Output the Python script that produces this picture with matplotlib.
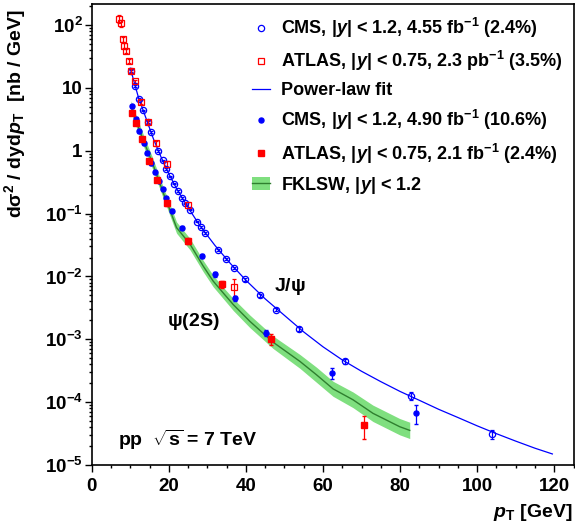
import matplotlib
matplotlib.use('Agg')
import matplotlib.pyplot as plt
from matplotlib.lines import Line2D
from matplotlib.patches import Patch
from matplotlib.ticker import FixedLocator, FixedFormatter, MultipleLocator, LogLocator, NullFormatter
import numpy as np

plt.rcParams['font.family'] = ['Liberation Sans', 'DejaVu Sans']
plt.rcParams['font.weight'] = 'bold'
plt.rcParams['axes.labelweight'] = 'bold'
plt.rcParams['mathtext.fontset'] = 'custom'
plt.rcParams['mathtext.rm'] = 'Liberation Sans:bold'
plt.rcParams['mathtext.it'] = 'Liberation Sans:bold:italic'
plt.rcParams['mathtext.bf'] = 'Liberation Sans:bold'
plt.rcParams['mathtext.sf'] = 'Liberation Sans:bold'

# CMS J/psi, |y| < 1.2 (open circles)
cms_jpsi_pt = [10.2, 11.2, 12.3, 13.2, 14.6, 15.4, 17.25, 18.4, 19.4, 20.3, 21.3, 22.3, 23.3, 24.2,
               25.4, 27.3, 28.3, 29.3, 32.8, 34.8, 36.8, 39.7, 43.6, 47.7, 53.9, 65.8, 82.7, 103.9]
cms_jpsi_xs = [18.6, 10.6, 6.65, 4.38, 2.85, 1.98, 1.0, 0.70, 0.51, 0.39, 0.30, 0.23, 0.177, 0.145,
               0.116, 0.0748, 0.0608, 0.0488, 0.0267, 0.0192, 0.0138, 0.0090, 0.00505, 0.00298,
               0.00146, 0.000445, 0.000127, 3.1e-5]
cms_jpsi_rel = [0.03, 0.03, 0.03, 0.03, 0.03, 0.03, 0.03, 0.03, 0.03, 0.03, 0.03, 0.03, 0.03, 0.03,
                0.03, 0.03, 0.03, 0.03, 0.04, 0.04, 0.04, 0.05, 0.05, 0.06, 0.07, 0.10, 0.15, 0.16]

# ATLAS J/psi, |y| < 0.75 (open squares)
atlas_jpsi_pt = [7.07, 7.5, 8.03, 8.45, 8.9, 9.6, 10.26, 11.3, 12.7, 14.7, 16.7, 19.5, 24.9, 36.9]
atlas_jpsi_xs = [125, 106, 59, 47, 39, 26.6, 18.6, 12.7, 5.9, 2.85, 1.32, 0.62, 0.138, 0.0068]
atlas_jpsi_rel = [0.15, 0.12, 0.10, 0.09, 0.08, 0.08, 0.07, 0.07, 0.07, 0.08, 0.09, 0.10, 0.12, 0.35]

# Power-law fit to the J/psi data
fit_pt = [10, 12, 14, 16, 18, 20, 22, 25, 28, 32, 36, 40, 45, 50, 55, 60, 65, 70, 75, 80,
          85, 90, 95, 100, 105, 110, 115, 119.5]
fit_xs = [20.6, 7.5, 3.4, 1.55, 0.79, 0.43, 0.25, 0.125, 0.065, 0.031, 0.016, 0.0087, 0.0044,
          0.0024, 0.00131, 0.00076, 0.00047, 0.00031, 0.000212, 0.000148, 0.000107, 7.7e-5,
          5.7e-5, 4.2e-5, 3.15e-5, 2.4e-5, 1.85e-5, 1.5e-5]

# CMS psi(2S), |y| < 1.2 (filled circles)
cms_psi2s_pt = [10.36, 11.4, 12.33, 13.47, 14.4, 15.44, 16.4, 17.4, 18.4, 19.35, 20.9, 23.5,
                28.5, 32.0, 37.1, 45.3, 62.3, 84.0]
cms_psi2s_xs = [5.08, 3.24, 2.03, 1.32, 0.935, 0.63, 0.454, 0.334, 0.246, 0.174, 0.111, 0.060,
                0.0212, 0.0108, 0.00447, 0.00127, 0.00029, 6.8e-5]
cms_psi2s_rel = [0.05, 0.05, 0.05, 0.05, 0.05, 0.05, 0.05, 0.05, 0.05, 0.05, 0.05, 0.06,
                 0.07, 0.08, 0.10, 0.12, 0.20, 0.33]

# ATLAS psi(2S), |y| < 0.75 (filled squares)
atlas_psi2s_pt = [10.5, 11.4, 12.95, 14.9, 17.0, 19.6, 25.1, 33.7, 46.4, 70.6]
atlas_psi2s_xs = [3.97, 2.75, 1.55, 0.68, 0.347, 0.145, 0.0367, 0.0075, 0.001, 4.3e-5]
atlas_psi2s_rel = [0.06, 0.06, 0.06, 0.06, 0.07, 0.08, 0.10, 0.13, 0.20, 0.40]

# FKLSW prediction, |y| < 1.2 (central value and band)
fklsw_pt = [10.2, 10.8, 13.4, 15.5, 16.0, 19.0, 19.4, 22.0, 25.5, 28.9, 31.5, 33.7, 36.7, 41.0,
            47.05, 54.0, 58.3, 62.6, 67.8, 72.95, 79.9, 82.5]
fklsw_xs = [5.1, 3.9, 1.46, 0.70, 0.58, 0.181, 0.160, 0.060, 0.0326, 0.0147, 0.00845, 0.00585,
            0.00358, 0.00194, 9.0e-4, 4.46e-4, 2.73e-4, 1.63e-4, 1.09e-4, 6.65e-5, 4.07e-5, 3.56e-5]
fklsw_lo = [4.15, 3.17, 1.19, 0.569, 0.472, 0.147, 0.130, 0.0488, 0.0265, 0.01195, 0.00687, 0.00476,
            0.00288, 0.00154, 7.15e-4, 3.46e-4, 2.07e-4, 1.24e-4, 8.17e-5, 4.93e-5, 3.02e-5, 2.64e-5]
fklsw_hi = [6.27, 4.80, 1.80, 0.861, 0.713, 0.223, 0.197, 0.0738, 0.0401, 0.0181, 0.0104, 0.00720,
            0.00446, 0.00244, 1.13e-3, 5.74e-4, 3.60e-4, 2.15e-4, 1.45e-4, 8.97e-5, 5.49e-5, 4.80e-5]

ytick_vals = [1e-5, 1e-4, 1e-3, 1e-2, 1e-1, 1, 10, 100]
ytick_labels = ['10$^{-5}$', '10$^{-4}$', '10$^{-3}$', '10$^{-2}$', '10$^{-1}$', '1', '10', '10$^{2}$']

blue = '#0000ff'
red = '#ff0000'
band_green = '#7fdf7f'
line_green = '#2f7f2f'

fig = plt.figure(figsize=(5.75, 5.27), dpi=100)
ax = fig.add_axes([0.1595, 0.1176, 0.838, 0.8748])

# theory band
ax.fill_between(fklsw_pt, fklsw_lo, fklsw_hi, color=band_green, lw=0, zorder=1)
ax.plot(fklsw_pt, fklsw_xs, color=line_green, lw=1.0, zorder=2)

# fit
ax.plot(fit_pt, fit_xs, color=blue, lw=0.9, zorder=3)

def errs(vals, rel):
    v = np.array(vals)
    return v * np.array(rel)

ax.errorbar(cms_jpsi_pt, cms_jpsi_xs, yerr=errs(cms_jpsi_xs, cms_jpsi_rel), fmt='o', ms=4.5,
            mfc='none', mec=blue, mew=0.9, ecolor=blue, elinewidth=0.9, capsize=1.5, zorder=4)
ax.errorbar(atlas_jpsi_pt, atlas_jpsi_xs, yerr=errs(atlas_jpsi_xs, atlas_jpsi_rel), fmt='s', ms=4.8,
            mfc='none', mec=red, mew=0.9, ecolor=red, elinewidth=0.9, capsize=1.5, zorder=4)
ax.errorbar(cms_psi2s_pt, cms_psi2s_xs, yerr=errs(cms_psi2s_xs, cms_psi2s_rel), fmt='o', ms=3.6,
            mfc=blue, mec=blue, ecolor=blue, elinewidth=0.9, capsize=1.5, zorder=5)
ax.errorbar(atlas_psi2s_pt, atlas_psi2s_xs, yerr=errs(atlas_psi2s_xs, atlas_psi2s_rel), fmt='s', ms=4.2,
            mfc=red, mec=red, ecolor=red, elinewidth=0.9, capsize=1.5, zorder=5)

ax.set_yscale('log')
ax.set_xlim(0, 125)
ax.set_ylim(1e-5, 216)

ax.xaxis.set_major_locator(MultipleLocator(20))
ax.xaxis.set_minor_locator(MultipleLocator(5))
ax.yaxis.set_major_locator(FixedLocator(ytick_vals))
ax.yaxis.set_major_formatter(FixedFormatter(ytick_labels))
ax.yaxis.set_minor_locator(LogLocator(base=10, subs=np.arange(2, 10)))
ax.yaxis.set_minor_formatter(NullFormatter())
ax.tick_params(which='both', direction='out', width=1.0, labelsize=13.5)
ax.tick_params(which='major', length=5)
ax.tick_params(which='minor', length=2.5)
ax.tick_params(axis='x', which='major', pad=4)
ax.tick_params(axis='y', which='major', pad=1.5)
for s in ax.spines.values():
    s.set_linewidth(1.2)

ax.set_xlabel(r'$p_{\mathrm{T}}$ [GeV]', fontsize=14, fontweight='bold', loc='right')
ax.xaxis.set_label_coords(0.997, -0.08)
ax.set_ylabel(r'd$\mathrm{\sigma}^{2}$ / dyd$p_{\mathrm{T}}$  [nb / GeV]', fontsize=14,
              fontweight='bold', loc='top')
ax.yaxis.set_label_coords(-0.132, 0.99)

ax.text(0.0546, 0.054, r'pp  $\sqrt{\mathrm{s}}$ = 7 TeV', transform=ax.transAxes,
        fontsize=14, va='center', ha='left')
ax.text(0.378, 0.387, r'J/$\mathrm{\psi}$', transform=ax.transAxes, fontsize=14, va='center')
ax.text(0.156, 0.311, r'$\mathrm{\psi}$(2S)', transform=ax.transAxes, fontsize=14, va='center')

handles = [
    Line2D([], [], ls='none', marker='o', ms=4.5, mfc='none', mec=blue, mew=0.9),
    Line2D([], [], ls='none', marker='s', ms=4.8, mfc='none', mec=red, mew=0.9),
    Line2D([], [], color=blue, lw=0.9),
    Line2D([], [], ls='none', marker='o', ms=3.6, color=blue),
    Line2D([], [], ls='none', marker='s', ms=4.2, color=red),
    (Patch(facecolor=band_green, lw=0), Line2D([], [], color=line_green, lw=1.0)),
]
labels = [
    r'CMS, |$y$| < 1.2, 4.55 fb$^{-1}$ (2.4%)',
    r'ATLAS, |$y$| < 0.75, 2.3 pb$^{-1}$ (3.5%)',
    'Power-law fit',
    r'CMS, |$y$| < 1.2, 4.90 fb$^{-1}$ (10.6%)',
    r'ATLAS, |$y$| < 0.75, 2.1 fb$^{-1}$ (2.4%)',
    r'FKLSW, |$y$| < 1.2',
]
ax.legend(handles, labels, loc='upper left', bbox_to_anchor=(0.332, 0.974), frameon=False,
          fontsize=13, handlelength=1.0, handletextpad=0.65, labelspacing=0.5,
          borderpad=0, borderaxespad=0)

fig.savefig('out.png', dpi=100)
